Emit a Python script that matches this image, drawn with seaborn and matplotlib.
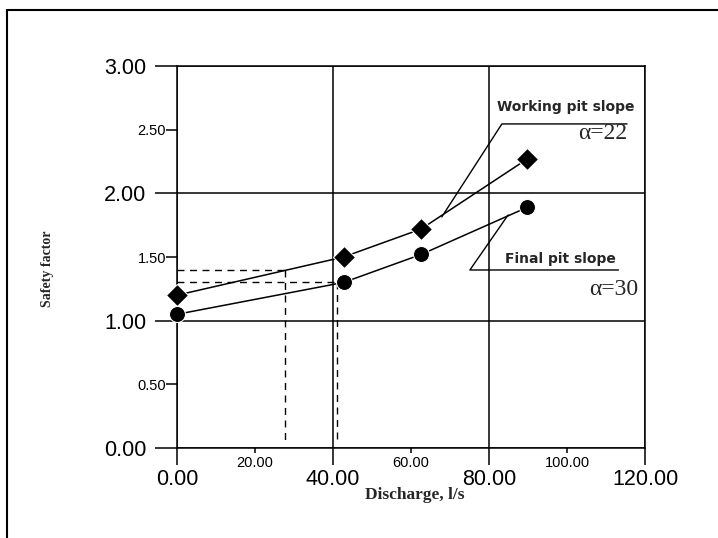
import pandas as pd
import matplotlib
matplotlib.use('Agg')
from matplotlib import pyplot as plt
from matplotlib.lines import Line2D
from matplotlib.ticker import FormatStrFormatter
import seaborn as sns

# values
discharge = [0.0, 42.7, 62.6, 89.8]
working_sf = [1.20, 1.50, 1.72, 2.27]   # working pit slope, alpha = 22
final_sf = [1.05, 1.30, 1.52, 1.89]     # final pit slope, alpha = 30

x_major = [0, 40, 80, 120]
x_minor = [20, 60, 100]
y_major = [0, 1, 2, 3]
y_minor = [0.5, 1.5, 2.5]

# dashed read-off lines (safety factor -> allowed discharge)
read_sf = [1.40, 1.30]
read_q = [27.8, 41.0]

# leader lines for the two labels
working_leader_x = [67.9, 83.3, 115.4]
working_leader_y = [1.815, 2.545, 2.545]
final_leader_x = [84.9, 75.1, 113.2]
final_leader_y = [1.83, 1.398, 1.398]

sns.set_style('white')
plt.rcParams['font.family'] = ['Liberation Sans', 'DejaVu Sans']

W, H = 718, 538
fig = plt.figure(figsize=(W / 100, H / 100), dpi=100)
ax = fig.add_axes([177 / W, 1 - 448 / H, (645 - 177) / W, (448 - 66) / H])

df_w = pd.DataFrame({'Discharge': discharge, 'SF': working_sf})
df_f = pd.DataFrame({'Discharge': discharge, 'SF': final_sf})
sns.lineplot(data=df_w, x='Discharge', y='SF', marker='D', markersize=11,
             color='black', lw=1.1, ax=ax, zorder=5, clip_on=False)
sns.lineplot(data=df_f, x='Discharge', y='SF', marker='o', markersize=11.5,
             color='black', lw=1.1, ax=ax, zorder=5, clip_on=False)

dash = (0, (5, 4))
for sf, q in zip(read_sf, read_q):
    ax.plot([0, q], [sf, sf], color='black', lw=1, ls=dash)
    ax.plot([q, q], [sf, 0.03], color='black', lw=1, ls=dash)

ax.plot(working_leader_x, working_leader_y, color='black', lw=1)
ax.plot(final_leader_x, final_leader_y, color='black', lw=1)

ax.text(99.6, 2.676, 'Working pit slope', ha='center', va='center',
        fontsize=10, fontweight='bold', family='DejaVu Sans')
ax.text(98.3, 1.485, 'Final pit slope', ha='center', va='center',
        fontsize=10, fontweight='bold', family='DejaVu Sans')
ax.text(109.2, 2.472, 'α=22', ha='center', va='center',
        fontsize=17, family='Liberation Serif')
ax.text(111.9, 1.241, 'α=30', ha='center', va='center',
        fontsize=17, family='Liberation Serif')

ax.set_xlim(0, 120)
ax.set_ylim(0, 3)
ax.set_xticks(x_major)
ax.set_xticks(x_minor, minor=True)
ax.set_yticks(y_major)
ax.set_yticks(y_minor, minor=True)
for axis in (ax.xaxis, ax.yaxis):
    axis.set_major_formatter(FormatStrFormatter('%.2f'))
    axis.set_minor_formatter(FormatStrFormatter('%.2f'))

ax.tick_params(which='both', bottom=True, left=True, color='black',
               width=1.1, labelcolor='black')
ax.tick_params(axis='x', which='major', length=12, pad=3, labelsize=15.5)
ax.tick_params(axis='x', which='minor', length=3.6, pad=2, labelsize=10.5)
ax.tick_params(axis='y', which='major', length=16, pad=6, labelsize=15.5)
ax.tick_params(axis='y', which='minor', length=8, pad=0, labelsize=10.5)

ax.grid(which='major', color='black', lw=1.1)
ax.grid(which='minor', visible=False)
for s in ax.spines.values():
    s.set_color('black')
    s.set_linewidth(1.1)

ax.set_xlabel('')
ax.set_ylabel('')
fig.text(48 / W, 1 - 269 / H, 'Safety factor', rotation=90, ha='center',
         va='center', fontsize=10, fontweight='bold', family='Liberation Serif')
fig.text(415 / W, 1 - 495 / H, 'Discharge, l/s', ha='center', va='center',
         fontsize=12.5, fontweight='bold', family='Liberation Serif')

# frame round the figure
fig.add_artist(Line2D([7 / W, 7 / W], [0, 1 - 10 / H], transform=fig.transFigure,
                      color='black', lw=1.5))
fig.add_artist(Line2D([7 / W, 1], [1 - 10 / H, 1 - 10 / H], transform=fig.transFigure,
                      color='black', lw=1.5))

fig.savefig('out.png', dpi=100)
